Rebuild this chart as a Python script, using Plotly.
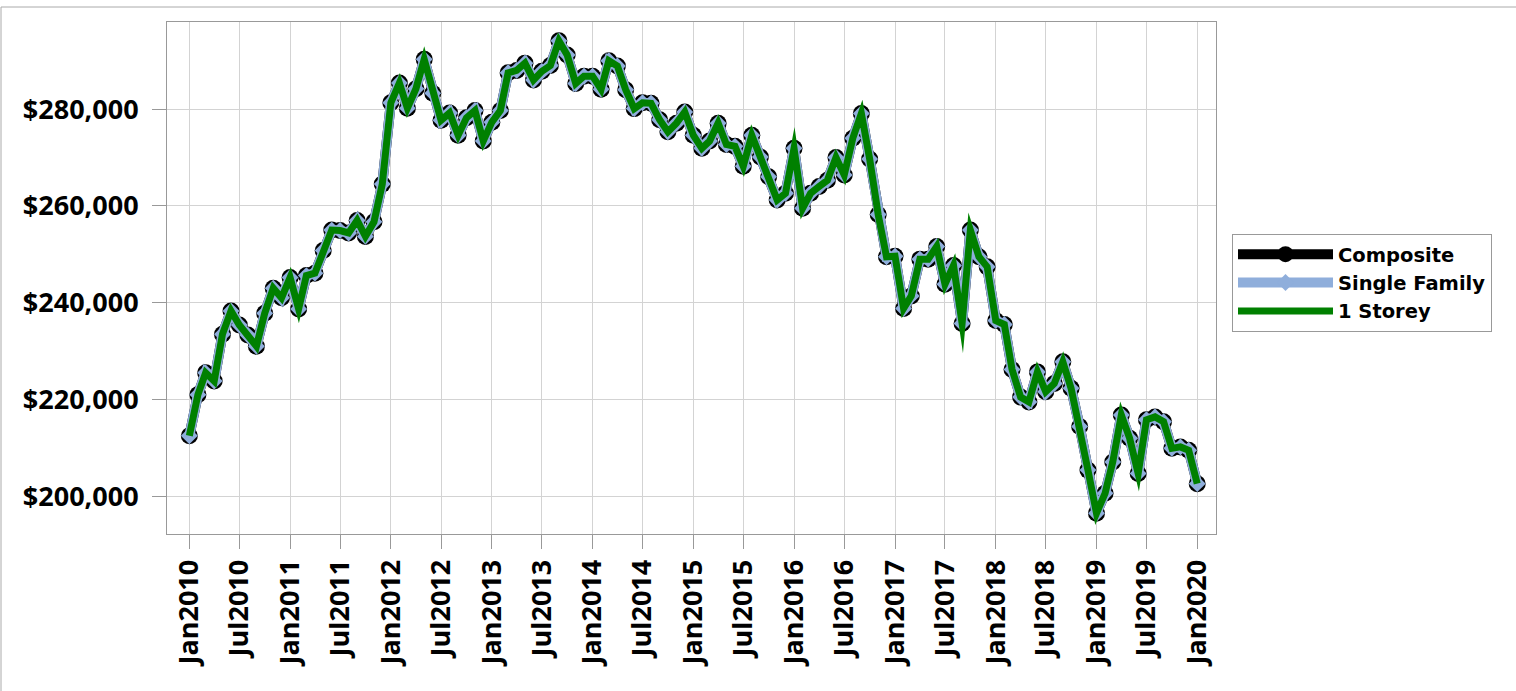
import pandas as pd
import plotly.graph_objects as go

# Monthly dates Jan2010 .. Jan2020
months = pd.date_range("2010-01-01", "2020-01-01", freq="MS")

composite = [
    212500, 221000, 225500, 223800, 233500, 238300, 235400, 233300, 231000, 237800,
    243000, 241000, 245200, 238700, 245600, 246100, 250800, 255000, 254900, 254400,
    257000, 253700, 256700, 264500, 281300, 285400, 280200, 284200, 290300, 283300,
    277700, 279200, 274600, 278200, 279700, 273400, 277300, 279700, 287500, 288000,
    289500, 286000, 287800, 289000, 294100, 291200, 285300, 286800, 286800, 284100,
    290000, 288900, 284000, 280100, 281300, 281200, 277800, 275300, 277100, 279400,
    274600, 271900, 273400, 277100, 272700, 272300, 268200, 274600, 270100, 266000,
    261200, 262600, 271900, 259500, 262600, 264000, 265300, 270000, 266400, 274000,
    279100, 269700, 258200, 249500, 249600, 238800, 241400, 249000, 249000, 251600,
    243800, 247700, 235700, 255000, 249500, 247400, 236300, 235500, 226200, 220500,
    219500, 225700, 221600, 223300, 227800, 222300, 214400, 205400, 196500, 200600,
    207100, 216800, 212000, 204700, 215800, 216400, 215400, 209900, 210200, 209500,
    202600,
]
single_family = list(composite)
one_storey = list(composite)

y_ticks = [200000, 220000, 240000, 260000, 280000]
y_tick_text = ["$200,000", "$220,000", "$240,000", "$260,000", "$280,000"]

FONT = "Open Sans"
LEGEND_FONT = "DejaVu Sans"

fig = go.Figure()
fig.add_trace(go.Scatter(
    x=months, y=composite, name="Composite", mode="lines+markers",
    line=dict(color="black", width=10),
    marker=dict(symbol="circle", size=17, color="black"),
))
fig.add_trace(go.Scatter(
    x=months, y=single_family, name="Single Family", mode="lines+markers",
    line=dict(color="#8FAEDB", width=10),
    marker=dict(symbol="diamond", size=13, color="#8FAEDB"),
))
fig.add_trace(go.Scatter(
    x=months, y=one_storey, name="1 Storey", mode="lines",
    line=dict(color="#008000", width=7),
))

L, R, T, B = 167, 1216, 22, 534
W, H = 1516, 691
pw, ph = R - L, B - T

fig.update_layout(
    width=W, height=H,
    margin=dict(l=L, r=W - R, t=T, b=H - B),
    paper_bgcolor="white", plot_bgcolor="white",
    font=dict(family=FONT, size=24, color="black", weight="bold"),
    showlegend=True,
    legend=dict(
        x=(1232 - L) / pw, y=(B - 234) / ph, xanchor="left", yanchor="top",
        bordercolor="#999999", borderwidth=1, bgcolor="white",
        font=dict(family=LEGEND_FONT, size=19.5, color="black", weight="bold"),
        itemwidth=95, tracegroupgap=0,
    ),
    shapes=[
        dict(type="line", xref="paper", yref="paper",
             x0=(1 - L) / pw, x1=(W - L) / pw, y0=(B - 7) / ph, y1=(B - 7) / ph,
             line=dict(color="#aaaaaa", width=1), layer="below"),
        dict(type="line", xref="paper", yref="paper",
             x0=(1 - L) / pw, x1=(1 - L) / pw, y0=(B - 7) / ph, y1=(B - H) / ph,
             line=dict(color="#aaaaaa", width=1), layer="below"),
    ],
)

fig.update_xaxes(
    range=["2009-10-12", "2020-03-09"],
    tickformat="%b%Y", dtick="M6", tick0="2010-01-01",
    tickangle=-90,
    ticks="outside", ticklen=14, tickcolor="#999999",
    showgrid=True, gridcolor="#d3d3d3", gridwidth=1,
    showline=True, linecolor="#999999", linewidth=1, mirror=True,
    tickfont=dict(family=FONT, size=27, color="black", weight="bold"),
)
fig.update_yaxes(
    range=[192200, 298000],
    tickvals=y_ticks, ticktext=y_tick_text,
    ticks="outside", ticklen=14, tickcolor="#999999",
    ticklabelstandoff=8,
    showgrid=True, gridcolor="#d3d3d3", gridwidth=1,
    showline=True, linecolor="#999999", linewidth=1, mirror=True,
    zeroline=False,
    tickfont=dict(family=FONT, size=27, color="black", weight="bold"),
)

post = (
    "document.body.style.margin='0';"
    "var ls=document.querySelectorAll('.scatterlayer .trace');"
    "if(ls.length){var g=ls[ls.length-1].querySelectorAll('.js-line');"
    "g.forEach(function(p){p.style.strokeLinejoin='miter';p.style.strokeMiterlimit='10';});}"
)
fig.write_html("out.html", post_script=post, config={"displayModeBar": False})
